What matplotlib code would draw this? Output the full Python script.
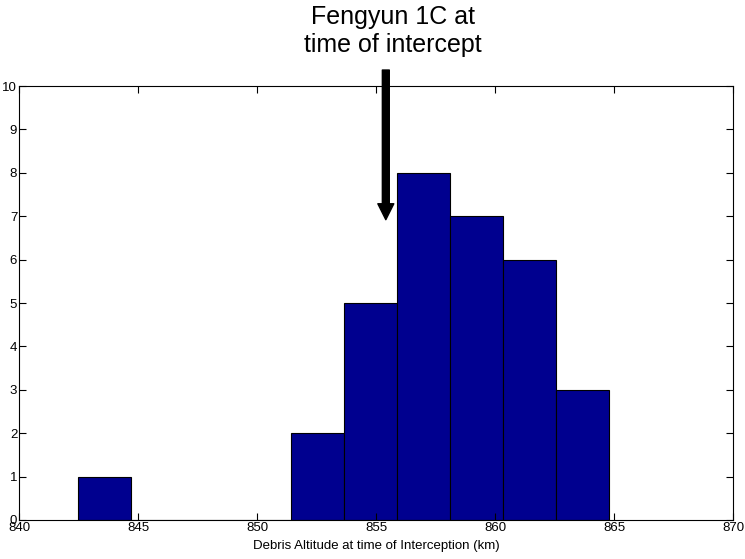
import numpy as np
import matplotlib.pyplot as plt

plt.rcParams['font.family'] = ['Liberation Sans', 'DejaVu Sans']

# histogram of debris altitudes
bin_edges = [842.48, 844.71, 846.94, 849.17, 851.40, 853.63,
             855.86, 858.09, 860.32, 862.55, 864.78]
counts = [1, 0, 0, 0, 2, 5, 8, 7, 6, 3]
xticks = [840, 845, 850, 855, 860, 865, 870]
yticks = list(range(0, 11))
intercept_alt = 855.4
arrow_top = 10.37
arrow_tip = 6.92

fig = plt.figure(figsize=(7.45, 5.59), dpi=100)
ax = fig.add_axes([0.0259, 0.0698, 0.9584, 0.7762])

lefts = np.array(bin_edges[:-1])
widths = np.diff(bin_edges)
ax.bar(lefts, counts, width=widths, align='edge', color='#00008F',
       edgecolor='black', linewidth=0.8)

ax.set_xlim(840, 870)
ax.set_ylim(0, 10)
ax.set_xticks(xticks)
ax.set_yticks(yticks)
ax.tick_params(direction='in', top=True, right=True, length=5, width=0.8,
               labelsize=9.5, pad=1.5)
for s in ax.spines.values():
    s.set_linewidth(0.8)
ax.set_xlabel('Debris Altitude at time of Interception (km)', fontsize=9.5,
              labelpad=4)

ax.annotate('', xy=(intercept_alt, arrow_tip), xytext=(intercept_alt, arrow_top),
            xycoords='data', annotation_clip=False,
            arrowprops=dict(facecolor='black', edgecolor='black', width=5,
                            headwidth=11.5, headlength=11.5, shrink=0))
ax.text(855.7, 10.67, 'Fengyun 1C at\ntime of intercept', ha='center',
        va='bottom', fontsize=18, clip_on=False)

fig.savefig('out.png', dpi=100)
